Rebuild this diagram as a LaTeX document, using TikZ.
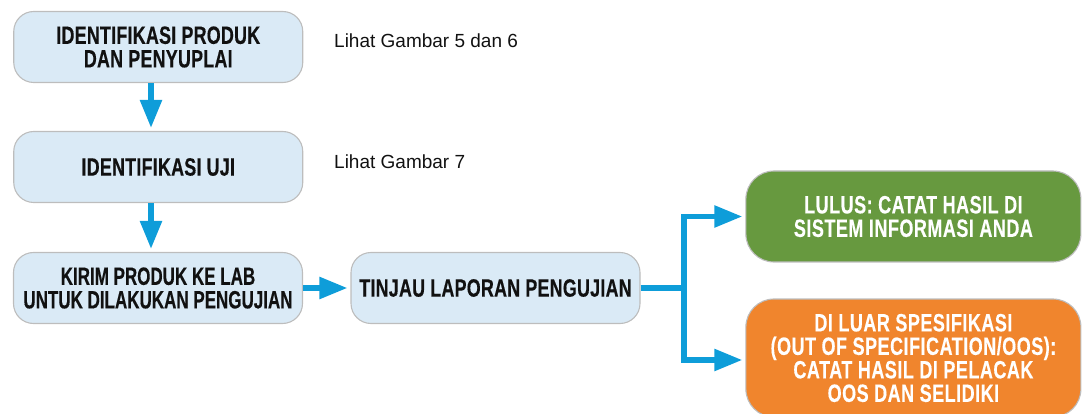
\documentclass[tikz,border=0pt]{standalone}
\usepackage{fontspec}
\setmainfont{Liberation Sans}
\newfontfamily\condsans[FakeStretch=0.715,FakeBold=0.35,LetterSpace=1]{Liberation Sans}
\newfontfamily\narrowsans[FakeStretch=0.68,FakeBold=0.35]{Liberation Sans}
\newfontfamily\widesans[FakeStretch=0.72,FakeBold=0.3,LetterSpace=2]{Liberation Sans}
\usetikzlibrary{arrows.meta}

\definecolor{stepfill}{HTML}{DAEAF6}
\definecolor{stepedge}{HTML}{BDBDBD}
\definecolor{flowblue}{HTML}{0E9DD9}
\definecolor{passgreen}{HTML}{67993F}
\definecolor{oosorange}{HTML}{F0852D}
\definecolor{inkdark}{HTML}{111111}

\tikzset{
  stepbox/.style={draw=stepedge, line width=1.1pt, fill=stepfill, rounded corners=20pt,
    minimum width=289pt, minimum height=71pt, inner sep=0pt, align=center,
    text=inkdark, font=\condsans\bfseries\fontsize{25}{23.5}\selectfont},
  resultbox/.style={draw=stepedge, line width=1.1pt, rounded corners=28pt,
    minimum width=335pt, inner sep=0pt, align=center, text=white,
    font=\widesans\bfseries\fontsize{25}{23.5}\selectfont},
  flow/.style={draw=flowblue, line width=5.5pt,
    -{Triangle[length=28pt,width=21pt]}, shorten >=3pt},
  feed/.style={draw=flowblue, line width=5.5pt},
  note/.style={anchor=base west, inner sep=0pt, text=inkdark,
    font=\fontsize{19}{19}\selectfont}
}

\begin{document}
\begin{tikzpicture}[x=1pt, y=-1pt]
  \useasboundingbox (0,0) rectangle (1082,414);
  \clip (0,0) rectangle (1082,414);

  % left column of steps
  \node[stepbox] (ident) at (158.25,47) {IDENTIFIKASI PRODUK\\DAN PENYUPLAI};
  \node[stepbox] (tests) at (158.25,167) {IDENTIFIKASI UJI};
  \node[stepbox, font=\narrowsans\bfseries\fontsize{25}{23.5}\selectfont]
    (send) at (158,288) {KIRIM PRODUK KE LAB\\UNTUK DILAKUKAN PENGUJIAN};
  \node[stepbox] (review) at (495.5,288) {TINJAU LAPORAN PENGUJIAN};

  % outcomes
  \node[resultbox, fill=passgreen, minimum height=91pt] (pass) at (913.4,216.5)
    {LULUS: CATAT HASIL DI\\SISTEM INFORMASI ANDA};
  \node[resultbox, fill=oosorange, minimum height=118pt] (oos) at (913.4,358)
    {DI LUAR SPESIFIKASI\\(OUT OF SPECIFICATION/OOS):\\CATAT HASIL DI PELACAK\\OOS DAN SELIDIKI};

  % side notes
  \node[note] (noteA) at (334,48) {Lihat Gambar 5 dan 6};
  \node[note] (noteB) at (334,169) {Lihat Gambar 7};

  % connectors
  \coordinate (axis) at (151,0);
  \coordinate (split) at (684,288);
  \draw[flow] (ident.south -| axis) -- (tests.north -| axis);
  \draw[flow] (tests.south -| axis) -- (send.north -| axis);
  \draw[flow] (send) -- (review);
  \draw[feed] (review.east) -- (split);
  \draw[flow] (split) |- (pass.west);
  \draw[flow] (split) |- ([yshift=-2pt]oos.west);
\end{tikzpicture}
\end{document}
